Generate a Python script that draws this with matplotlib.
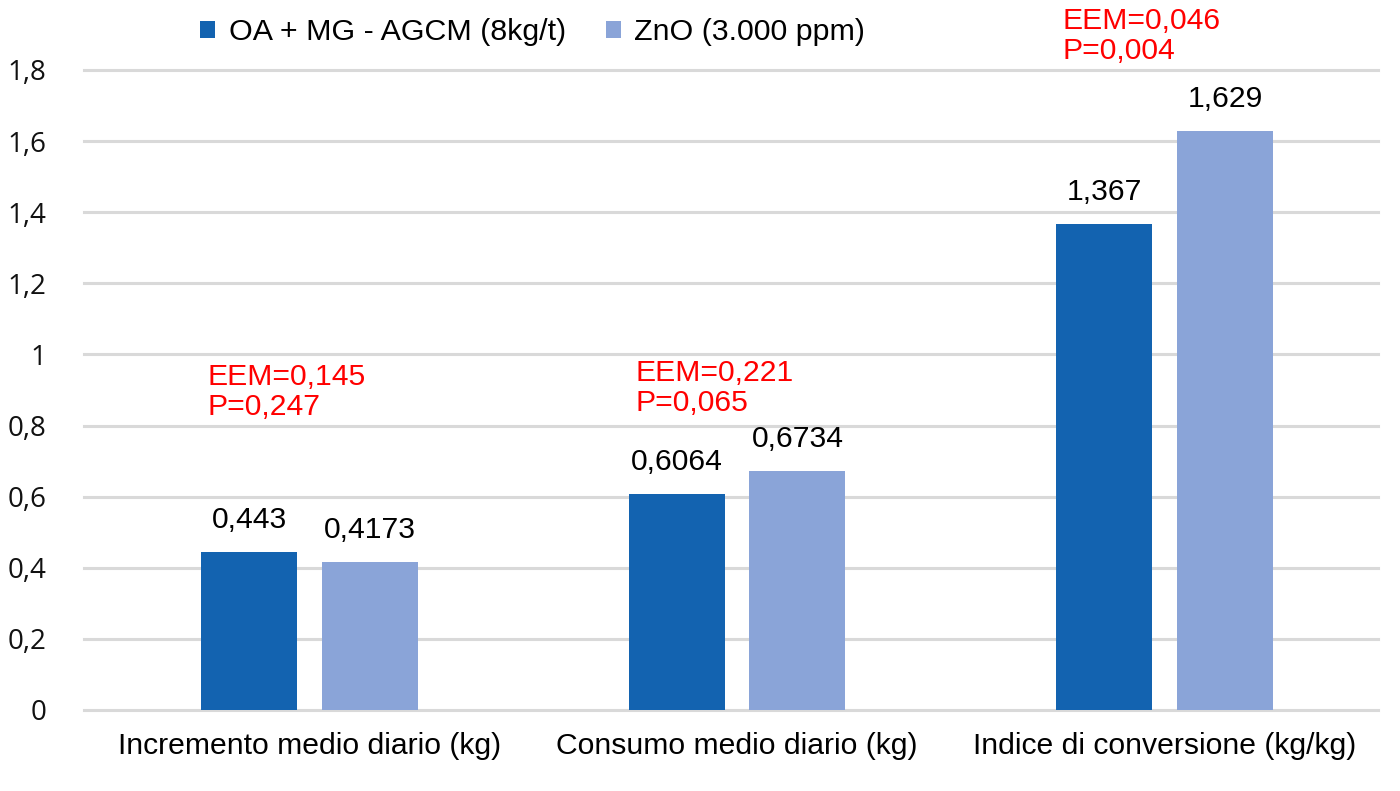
import matplotlib
matplotlib.use("Agg")
import matplotlib.pyplot as plt
import numpy as np

categories = ["Incremento medio diario (kg)", "Consumo medio diario (kg)", "Indice di conversione (kg/kg)"]
series_names = ["OA + MG - AGCM (8kg/t)", "ZnO (3.000 ppm)"]
oa_values = [0.443, 0.6064, 1.367]
zno_values = [0.4173, 0.6734, 1.629]
oa_labels = ["0,443", "0,6064", "1,367"]
zno_labels = ["0,4173", "0,6734", "1,629"]
stats_text = ["EEM=0,145\nP=0,247", "EEM=0,221\nP=0,065", "EEM=0,046\nP=0,004"]
stats_y = [0.894, 0.906, 1.895]
yticks = [0, 0.2, 0.4, 0.6, 0.8, 1.0, 1.2, 1.4, 1.6, 1.8]
ytick_labels = ["0", "0,2", "0,4", "0,6", "0,8", "1", "1,2", "1,4", "1,6", "1,8"]

dark = "#1363B0"
light = "#8AA4D8"
grid_c = "#D9D9D9"
FONT = ["Liberation Sans", "DejaVu Sans"]
FS = 21.7

fig = plt.figure(figsize=(14, 7.91), dpi=100)
ax = fig.add_axes([84/1400, 1-710/791, (1378-84)/1400, (710-70)/791])

x = np.arange(len(categories))
w = 0.2246
off = 0.1415
b1 = ax.bar(x - off, oa_values, w, color=dark, label=series_names[0], zorder=3)
b2 = ax.bar(x + off, zno_values, w, color=light, label=series_names[1], zorder=3)

for rects, labs in ((b1, oa_labels), (b2, zno_labels)):
    for r, t in zip(rects, labs):
        ax.annotate(t, (r.get_x() + r.get_width()/2, r.get_height()),
                    xytext=(0, 13), textcoords="offset points",
                    ha="center", va="bottom", fontsize=FS, family=FONT, color="black")

for i, (t, yy) in enumerate(zip(stats_text, stats_y)):
    ax.text(i - 0.238, yy, t, color="#FF0000", fontsize=FS, family=FONT,
            ha="left", va="center", linespacing=1.08, clip_on=False)

ax.set_xlim((84-309.5)/427.5, (1378-309.5)/427.5)
ax.set_ylim(0, 1.8)
ax.set_yticks(yticks)
ax.set_yticklabels(ytick_labels)
ax.set_xticks(x)
ax.set_xticklabels(categories)
ax.tick_params(axis="y", length=0, pad=27, labelsize=20, labelcolor="#111111")
ax.tick_params(axis="x", length=0, pad=16, labelsize=FS)
for lab in ax.get_yticklabels():
    lab.set_fontfamily(["Open Sans", "DejaVu Sans"])
for lab in ax.get_xticklabels():
    lab.set_fontfamily(FONT)
for s in ax.spines.values():
    s.set_visible(False)
ax.yaxis.grid(True, color=grid_c, linewidth=2.2, zorder=0)
for gl in ax.get_ygridlines():
    gl.set_clip_on(False)
ax.set_axisbelow(True)

fig.legend(handles=[b1, b2], labels=series_names, loc="center left",
           bbox_to_anchor=(200/1400, 1-32/791), ncol=2, frameon=False,
           prop={"family": FONT, "size": 21.9},
           handlelength=0.5, handleheight=0.5, handletextpad=0.45,
           columnspacing=1.3, borderpad=0, borderaxespad=0)

fig.savefig("out.png", dpi=100, facecolor="white")
